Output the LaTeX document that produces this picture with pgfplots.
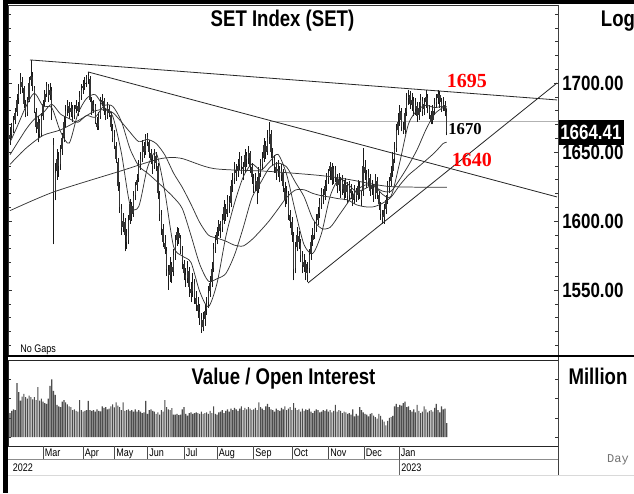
\documentclass[border=0pt]{standalone}
\usepackage{pgfplots}
\pgfplotsset{compat=1.18}
\usepackage{pgfplotstable}
\usepackage{fontspec}
\setmainfont{Liberation Sans}
\newfontfamily\nar[FakeStretch=0.82]{Liberation Sans}
\newfontfamily\serifb{Liberation Serif}
\newfontfamily\monof{Liberation Mono}
\newcommand\bigf{\nar\bfseries\fontsize{17pt}{19pt}\selectfont}
\newcommand\tickf{\nar\bfseries\fontsize{15.5pt}{17pt}\selectfont}
\newcommand\smf{\nar\fontsize{8.25pt}{9pt}\selectfont}

\pgfplotstableread{
d o h l c
0 1660 1668 1655 1662
1 1663 1671 1660 1668
2 1667 1676 1664 1672
3 1673 1682 1670 1678
4 1679 1692 1676 1688
5 1689 1699 1685 1695
6 1696 1707 1692 1702
7 1701 1704 1693 1697
8 1696 1698 1682 1685
9 1684 1688 1675 1678
10 1679 1690 1676 1686
11 1688 1704 1686 1700
12 1702 1717 1698 1705
13 1704 1708 1694 1698
14 1696 1698 1678 1680
15 1679 1682 1664 1668
16 1667 1676 1657 1672
17 1671 1674 1660 1663
18 1664 1678 1661 1675
19 1676 1688 1673 1685
20 1686 1695 1683 1692
21 1693 1701 1690 1698
22 1697 1699 1686 1690
23 1691 1700 1688 1695
24 1694 1697 1673 1683
25 1655 1660 1583 1620
26 1622 1642 1615 1635
27 1636 1652 1630 1645
28 1644 1650 1632 1640
29 1641 1655 1637 1650
30 1652 1664 1648 1660
31 1661 1676 1657 1672
32 1673 1684 1668 1680
33 1681 1688 1676 1684
34 1683 1686 1674 1678
35 1679 1686 1675 1682
36 1681 1684 1672 1676
37 1677 1684 1674 1680
38 1681 1688 1678 1684
39 1683 1686 1676 1680
40 1681 1694 1679 1690
41 1691 1699 1688 1695
42 1696 1702 1692 1698
43 1699 1704 1695 1700
44 1701 1706 1697 1703
45 1704 1708 1699 1705
46 1703 1705 1686 1688
47 1687 1690 1677 1680
48 1681 1688 1678 1684
49 1683 1685 1670 1672
50 1671 1675 1666 1668
51 1669 1679 1666 1675
52 1676 1690 1674 1685
53 1686 1692 1683 1688
54 1687 1689 1677 1680
55 1679 1682 1673 1676
56 1677 1686 1674 1682
57 1681 1684 1675 1678
58 1677 1679 1665 1668
59 1667 1670 1657 1660
60 1661 1666 1652 1655
61 1654 1657 1642 1645
62 1643 1646 1622 1625
63 1624 1628 1606 1610
64 1609 1612 1590 1595
65 1596 1606 1592 1600
66 1599 1602 1578 1590
67 1589 1594 1580 1585
68 1586 1604 1583 1600
69 1601 1616 1598 1612
70 1611 1614 1600 1605
71 1606 1622 1603 1618
72 1619 1628 1615 1625
73 1626 1634 1622 1630
74 1631 1644 1628 1640
75 1641 1650 1637 1645
76 1646 1659 1643 1655
77 1654 1657 1646 1650
78 1651 1663 1648 1660
79 1661 1664 1654 1658
80 1657 1659 1646 1650
81 1649 1652 1641 1645
82 1644 1647 1634 1640
83 1641 1652 1638 1648
84 1647 1650 1636 1642
85 1640 1642 1616 1620
86 1619 1622 1600 1605
87 1604 1608 1590 1595
88 1594 1598 1581 1585
89 1584 1590 1576 1580
90 1578 1581 1560 1565
91 1564 1568 1550 1560
92 1561 1574 1556 1568
93 1567 1570 1555 1563
94 1564 1580 1560 1575
95 1576 1590 1572 1585
96 1586 1596 1582 1592
97 1591 1595 1583 1588
98 1587 1590 1576 1580
99 1579 1582 1565 1570
100 1569 1572 1557 1562
101 1561 1566 1552 1558
102 1559 1571 1555 1565
103 1564 1567 1545 1552
104 1551 1556 1541 1548
105 1549 1562 1545 1555
106 1554 1558 1540 1545
107 1544 1549 1535 1540
108 1539 1545 1530 1535
109 1534 1540 1525 1530
110 1529 1533 1519 1522
111 1523 1534 1520 1528
112 1529 1540 1524 1535
113 1536 1545 1532 1540
114 1541 1553 1537 1548
115 1549 1560 1545 1555
116 1556 1570 1552 1565
117 1566 1584 1563 1580
118 1581 1590 1577 1585
119 1586 1596 1583 1592
120 1593 1601 1589 1598
121 1597 1600 1588 1595
122 1596 1605 1592 1600
123 1601 1615 1598 1610
124 1609 1612 1600 1605
125 1606 1619 1603 1615
126 1614 1618 1606 1612
127 1613 1630 1610 1625
128 1626 1635 1621 1630
129 1631 1643 1627 1638
130 1637 1641 1629 1635
131 1636 1645 1632 1640
132 1641 1650 1637 1645
133 1644 1647 1634 1640
134 1639 1643 1630 1638
135 1639 1652 1635 1648
136 1647 1650 1639 1645
137 1646 1654 1641 1650
138 1649 1651 1635 1640
139 1639 1642 1627 1632
140 1631 1634 1620 1625
141 1626 1635 1622 1630
142 1629 1632 1612 1622
143 1623 1639 1620 1635
144 1636 1645 1632 1640
145 1641 1650 1637 1645
146 1646 1660 1643 1655
147 1654 1658 1645 1650
148 1651 1666 1648 1660
149 1661 1672 1656 1665
150 1663 1666 1646 1650
151 1649 1653 1640 1645
152 1644 1648 1635 1640
153 1639 1643 1630 1635
154 1636 1644 1632 1638
155 1637 1640 1628 1632
156 1633 1641 1629 1636
157 1635 1638 1621 1625
158 1624 1628 1610 1615
159 1616 1625 1612 1620
160 1619 1622 1601 1605
161 1604 1608 1595 1600
162 1599 1603 1585 1590
163 1589 1592 1557 1565
164 1566 1585 1562 1580
165 1581 1596 1578 1590
166 1589 1593 1580 1585
167 1584 1587 1570 1575
168 1574 1578 1562 1568
169 1567 1576 1563 1570
170 1569 1572 1557 1562
171 1561 1570 1556 1565
172 1566 1580 1562 1575
173 1576 1590 1572 1585
174 1586 1595 1582 1590
175 1591 1599 1587 1595
176 1596 1605 1592 1600
177 1601 1610 1597 1605
178 1606 1617 1602 1612
179 1613 1624 1609 1620
180 1619 1623 1612 1618
181 1619 1630 1615 1625
182 1626 1635 1622 1630
183 1631 1638 1627 1635
184 1636 1643 1630 1640
185 1639 1642 1626 1630
186 1631 1640 1627 1638
187 1637 1640 1628 1632
188 1631 1634 1620 1625
189 1626 1635 1622 1630
190 1629 1632 1617 1622
191 1623 1633 1619 1628
192 1627 1630 1615 1620
193 1621 1631 1617 1626
194 1625 1628 1613 1618
195 1619 1629 1615 1624
196 1623 1627 1616 1620
197 1619 1622 1611 1615
198 1616 1626 1612 1622
199 1621 1624 1614 1618
200 1619 1630 1615 1625
201 1624 1628 1616 1620
202 1619 1622 1611 1615
203 1622 1653 1618 1640
204 1639 1644 1630 1635
205 1634 1637 1624 1628
206 1629 1638 1625 1632
207 1631 1634 1618 1622
208 1623 1630 1619 1625
209 1624 1627 1614 1618
210 1619 1634 1616 1630
211 1629 1632 1616 1620
212 1619 1622 1608 1612
213 1611 1614 1601 1605
214 1604 1608 1598 1602
215 1603 1612 1598 1608
216 1609 1619 1605 1615
217 1616 1629 1612 1625
218 1624 1632 1620 1628
219 1629 1640 1625 1635
220 1636 1650 1632 1645
221 1646 1657 1642 1652
222 1653 1670 1650 1665
223 1666 1678 1662 1672
224 1673 1684 1669 1680
225 1679 1682 1665 1668
226 1667 1672 1663 1665
227 1666 1682 1663 1678
228 1679 1693 1676 1688
229 1689 1695 1684 1690
230 1691 1694 1681 1685
231 1684 1693 1680 1688
232 1687 1690 1676 1680
233 1681 1689 1677 1684
234 1683 1686 1672 1676
235 1677 1686 1673 1682
236 1683 1692 1679 1688
237 1687 1690 1676 1680
238 1681 1689 1677 1685
239 1686 1695 1682 1690
240 1689 1692 1678 1682
241 1681 1684 1674 1678
242 1677 1680 1670 1672
243 1673 1684 1670 1680
244 1681 1689 1677 1685
245 1686 1692 1682 1688
246 1689 1695 1685 1692
247 1691 1694 1682 1686
248 1685 1689 1679 1683
249 1684 1690 1680 1685
250 1684 1687 1676 1680
251 1679 1681 1662 1664.41
}\candles

\pgfplotstableread{
d v
0 62
1 68
2 72
3 70
4 140
5 117
6 95
7 105
8 112
9 104
10 100
11 108
12 104
13 98
14 104
15 96
16 130
17 95
18 100
19 92
20 88
21 86
22 100
23 133
24 150
25 120
26 110
27 84
28 80
29 78
30 92
31 96
32 90
33 85
34 80
35 78
36 70
37 72
38 68
39 66
40 96
41 70
42 66
43 68
44 70
45 94
46 70
47 68
48 70
49 66
50 72
51 68
52 67
53 80
54 76
55 78
56 72
57 74
58 80
59 85
60 77
61 90
62 82
63 78
64 70
65 90
66 68
67 70
68 72
69 68
70 70
71 66
72 72
73 66
74 70
75 66
76 62
77 64
78 94
79 60
80 70
81 72
82 68
83 66
84 60
85 64
86 58
87 70
88 66
89 96
90 78
91 72
92 70
93 75
94 58
95 58
96 60
97 57
98 58
99 72
100 78
101 60
102 56
103 62
104 64
105 60
106 62
107 64
108 62
109 60
110 66
111 60
112 62
113 64
114 60
115 68
116 62
117 80
118 60
119 58
120 64
121 66
122 70
123 62
124 68
125 72
126 66
127 74
128 70
129 76
130 72
131 68
132 74
133 80
134 70
135 76
136 72
137 78
138 74
139 70
140 72
141 76
142 70
143 90
144 78
145 74
146 70
147 80
148 86
149 78
150 72
151 70
152 66
153 74
154 70
155 68
156 76
157 72
158 80
159 70
160 74
161 78
162 70
163 88
164 76
165 70
166 72
167 66
168 74
169 68
170 72
171 70
172 74
173 66
174 62
175 68
176 72
177 70
178 64
179 66
180 70
181 68
182 72
183 66
184 70
185 64
186 68
187 84
188 66
189 70
190 68
191 62
192 66
193 64
194 60
195 62
196 58
197 72
198 54
199 60
200 56
201 78
202 70
203 64
204 60
205 58
206 54
207 60
208 62
209 56
210 52
211 48
212 60
213 55
214 45
215 40
216 30
217 42
218 50
219 52
220 55
221 80
222 86
223 78
224 84
225 82
226 88
227 92
228 78
229 80
230 70
231 66
232 72
233 64
234 84
235 68
236 62
237 66
238 80
239 72
240 64
241 68
242 70
243 66
244 76
245 86
246 70
247 64
248 80
249 72
250 74
251 36
}\vols

\begin{document}
\begin{tikzpicture}
\useasboundingbox (0pt,0pt) rectangle (475.5pt,369.75pt);
\fill[white] (0pt,0pt) rectangle (475.5pt,369.75pt);

% ---------------- price panel ----------------
\begin{axis}[
  at={(6pt,103.5pt)}, anchor=south west,
  scale only axis, width=412.5pt, height=262.5pt,
  xmin=-1.15, xmax=314.94, ymin=1502.9, ymax=1756.5,
  xtick=\empty,
  ytick={1550,1600,1650,1700},
  yticklabels={1550.00,1600.00,1650.00,1700.00},
  minor ytick={1510,1520,...,1750},
  ytick pos=both, yticklabel pos=right,
  yticklabel style={font=\tickf, inner sep=0pt, xshift=3pt, anchor=west},
  major tick length=3pt, minor tick length=2pt,
  tick style={black!80, line width=0.4pt},
  axis line style={black!80, line width=0.5pt},
  clip mode=individual,
]
\addplot[black!30, line width=0.5pt] coordinates {(149.4,1672.5) (314.94,1672.5)};
\addplot[draw=none, mark=none, forget plot,
  error bars/.cd, y dir=plus, y explicit, error mark=none,
  error bar style={draw=black!90, line width=0.5pt}]
  table[x=d, y=l, y error expr=\thisrow{h}-\thisrow{l}] {\candles};
\addplot[draw=none, mark=none, forget plot,
  error bars/.cd, y dir=plus, y explicit, error mark=none,
  error bar style={draw=black!80, line width=1.1pt}]
  table[x=d, y expr={min(\thisrow{o},\thisrow{c})}, y error expr={abs(\thisrow{c}-\thisrow{o})}] {\candles};
\addplot[black!80, line width=0.55pt, smooth, tension=0.45] coordinates {
(0,1657)(4,1668)(9,1682.5)(14,1692.6)(19,1683.2)(24,1682.1)(29,1664.8)(34,1656.4)(39,1677.6)(44,1688.8)(49,1691.5)(54,1682.5)(59,1676)(64,1649.4)(69,1611.7)(74,1610.5)(79,1638.6)(84,1649.3)(89,1621)(94,1581.6)(99,1574.6)(104,1570)(109,1549)(114,1537.8)(119,1555)(124,1588.5)(129,1612.8)(134,1631.8)(139,1641.3)(144,1636.7)(149,1642.7)(154,1648.3)(159,1633.6)(164,1606.8)(169,1582.8)(174,1576.5)(179,1590.9)(184,1618)(189,1630.3)(194,1626.9)(199,1621.3)(204,1623.4)(209,1626)(214,1619.4)(219,1618)(224,1642.5)(229,1670.3)(234,1680.2)(239,1683.8)(244,1682.2)(249,1683.1)(251,1681.5)};
\addplot[black!80, line width=0.55pt, smooth, tension=0.45] coordinates {
(0,1648)(9,1666)(14,1673.8)(19,1678.3)(24,1684.6)(29,1677.5)(34,1674.2)(39,1671.5)(44,1676.4)(49,1675.2)(54,1683.5)(59,1683.1)(64,1672.2)(69,1652.2)(74,1639.8)(79,1634.7)(84,1629.1)(89,1623.3)(94,1617.1)(99,1609)(104,1589.6)(109,1568.8)(114,1556.4)(119,1558.2)(124,1561.9)(129,1575.3)(134,1595)(139,1616.7)(144,1627.7)(149,1638.4)(154,1641.9)(159,1639.1)(164,1628.1)(169,1617.6)(174,1601.6)(179,1594.6)(184,1595.4)(189,1604)(194,1613)(199,1621.9)(204,1626)(209,1625.1)(214,1621.7)(219,1621.6)(224,1630.2)(229,1640.3)(234,1651.8)(239,1666.1)(244,1677.5)(249,1682.3)(251,1682.8)};
\addplot[black!80, line width=0.55pt, smooth, tension=0.45] coordinates {
(0,1641)(9,1652.5)(19,1662)(29,1666)(39,1672.6)(49,1679.9)(54,1680.5)(59,1678.6)(64,1671.8)(69,1664.3)(74,1657.5)(79,1659.1)(84,1656.1)(89,1647.8)(94,1634.7)(99,1624.4)(104,1612.2)(109,1599)(114,1589.8)(119,1587.6)(124,1585.4)(129,1582.5)(134,1581.9)(139,1586.5)(144,1593)(149,1600.2)(154,1608.6)(159,1617.1)(164,1622.4)(169,1622.6)(174,1620)(179,1618.3)(184,1617.3)(189,1616.1)(194,1615.3)(199,1611.8)(204,1610.3)(209,1610.3)(214,1612.8)(219,1617.3)(224,1626)(229,1633.2)(234,1638.5)(239,1643.9)(244,1649.5)(249,1656.2)(251,1657)};
\addplot[black!80, line width=0.55pt, smooth, tension=0.45] coordinates {
(0,1607.5)(25,1621)(63,1636)(86,1645)(98,1645.5)(117,1638)(148,1636)(178,1633)(195,1630)(218,1625)(251,1624.5)};
\addplot[black!85, line width=0.6pt] coordinates {(11.49,1716.7) (314.4,1687.7)};
\addplot[black!85, line width=0.6pt] coordinates {(44.83,1708) (314.4,1617.4)};
\addplot[black!85, line width=0.6pt] coordinates {(171.26,1555.1) (314.4,1700)};
\node[text=red, font=\serifb\bfseries\fontsize{15pt}{16pt}\selectfont, inner sep=0pt] at (axis cs:262.6,1701.4) {1695};
\node[text=red, font=\serifb\bfseries\fontsize{15pt}{16pt}\selectfont, inner sep=0pt] at (axis cs:265.5,1644.2) {1640};
\node[text=black, font=\serifb\bfseries\fontsize{12.5pt}{14pt}\selectfont, inner sep=0pt] at (axis cs:261.5,1666.7) {1670};
\coordinate (lastp) at (axis cs:314.94,1664.41);
\end{axis}

% ---------------- volume panel ----------------
\begin{axis}[
  at={(6pt,35.25pt)}, anchor=south west,
  scale only axis, width=412.5pt, height=64.5pt,
  xmin=-1.15, xmax=314.94, ymin=-23.4, ymax=200.5,
  xtick=\empty,
  ytick={0,50,100,150,200}, yticklabels={},
  ytick pos=both,
  major tick length=2.5pt,
  tick style={black!80, line width=0.4pt},
  axis line style={black!85, line width=0.5pt},
  clip mode=individual,
]
\addplot[ybar, bar width=0.85pt, fill=black!70, draw=none] table[x=d, y=v] {\vols};
\pgfplotsinvokeforeach{19,42,60,79,100,119,140,162,183,203.5,223.5}{
  \draw[black!70, line width=0.5pt] (axis cs:#1,-23.4) -- ++(0pt,-9.75pt);}
\tikzset{mlab/.style={anchor=base west, inner sep=0pt, font=\smf}}
\node[mlab] at ([xshift=1.2pt,yshift=-7.5pt]axis cs:19,-23.4) {Mar};
\node[mlab] at ([xshift=1.2pt,yshift=-7.5pt]axis cs:42,-23.4) {Apr};
\node[mlab] at ([xshift=1.2pt,yshift=-7.5pt]axis cs:60,-23.4) {May};
\node[mlab] at ([xshift=1.2pt,yshift=-7.5pt]axis cs:79,-23.4) {Jun};
\node[mlab] at ([xshift=1.2pt,yshift=-7.5pt]axis cs:100,-23.4) {Jul};
\node[mlab] at ([xshift=1.2pt,yshift=-7.5pt]axis cs:119,-23.4) {Aug};
\node[mlab] at ([xshift=1.2pt,yshift=-7.5pt]axis cs:140,-23.4) {Sep};
\node[mlab] at ([xshift=1.2pt,yshift=-7.5pt]axis cs:162,-23.4) {Oct};
\node[mlab] at ([xshift=1.2pt,yshift=-7.5pt]axis cs:183,-23.4) {Nov};
\node[mlab] at ([xshift=1.2pt,yshift=-7.5pt]axis cs:203.5,-23.4) {Dec};
\node[mlab] at ([xshift=1.2pt,yshift=-7.5pt]axis cs:223.5,-23.4) {Jan};
\end{axis}

% ---------------- frame and texts (1 unit = 1 px, y upward) ----------------
\node[fill=black, text=white, anchor=west, inner xsep=1.5pt, inner ysep=0pt,
  minimum height=18.75pt, font=\tickf] at (lastp) {1664.41};
\begin{scope}[x=0.75pt,y=0.75pt]
\draw[black!75, line width=0.75pt] (558,488) -- (558,18);
\draw[black!45, line width=0.6pt] (7.5,34) -- (558,34);
\draw[black!15, line width=0.75pt] (7.5,18) -- (634,18);
\draw[black!60, line width=0.6pt] (399.8,34) -- (399.8,18);
\fill[black] (3,0) rectangle (7.5,493);
\fill[black] (3,489) rectangle (634,493);
\fill[black] (3,135.8) rectangle (634,138.3);
\node[anchor=base, inner sep=0pt, font=\bigf] at (282.5,466.5) {SET Index (SET)};
\node[anchor=base, inner sep=0pt, font=\bigf] at (618,466.5) {Log};
\node[anchor=base, inner sep=0pt, font=\bigf] at (283.5,109) {Value / Open Interest};
\node[anchor=base, inner sep=0pt, font=\bigf] at (598,109) {Million};
\node[anchor=base west, inner sep=0pt, font=\smf] at (20,140.8) {No Gaps};
\node[anchor=base, inner sep=0pt, text=black!55, font=\monof\fontsize{9pt}{10pt}\selectfont] at (618,30.5) {Day};
\node[anchor=base west, inner sep=0pt, font=\smf] at (12.5,22) {2022};
\node[anchor=base west, inner sep=0pt, font=\smf] at (401,22) {2023};
\end{scope}
\end{tikzpicture}
\end{document}
